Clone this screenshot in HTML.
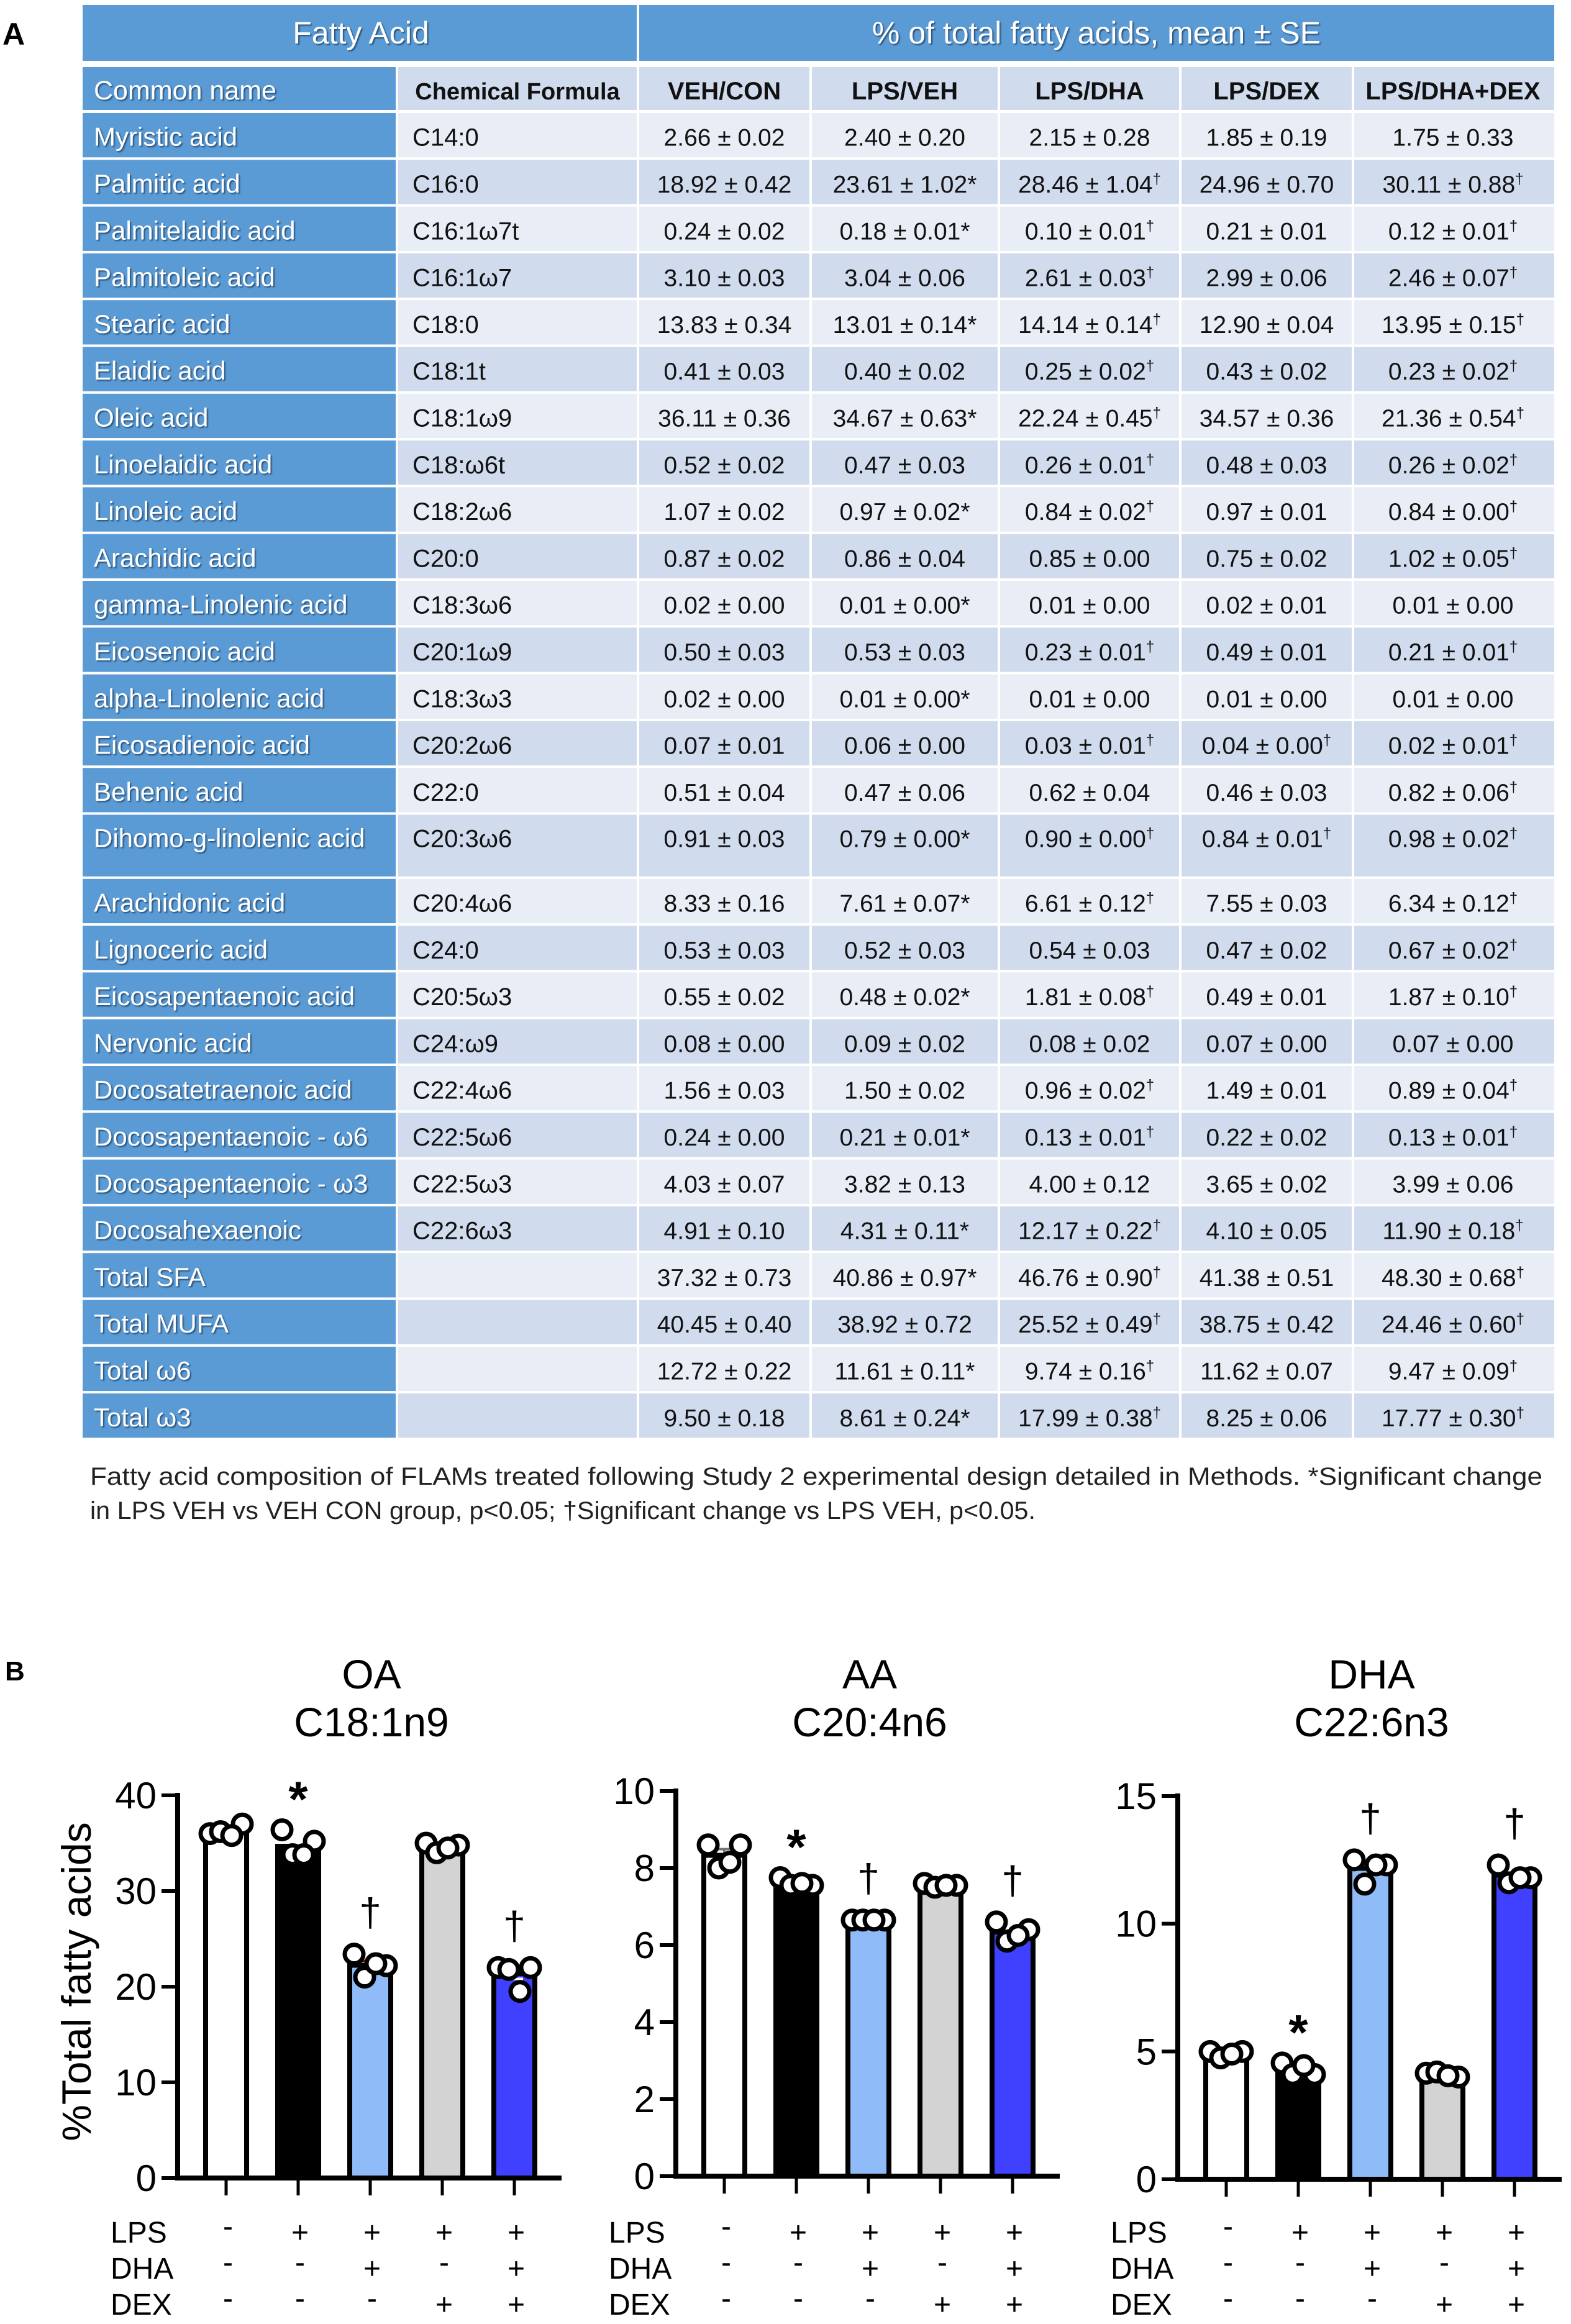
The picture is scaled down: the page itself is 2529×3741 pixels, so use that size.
<!DOCTYPE html>
<html><head><meta charset="utf-8"><style>
html,body{margin:0;padding:0;background:#fff;}
svg{display:block;}
</style></head><body>
<svg id="fig" xmlns="http://www.w3.org/2000/svg" width="2529" height="3741" viewBox="0 0 2529 3741">
<defs><filter id="sh" x="-5%" y="-20%" width="110%" height="140%"><feDropShadow dx="2" dy="2" stdDeviation="1" flood-color="#1f3b5c" flood-opacity="0.8"/></filter></defs>
<g id="table"></g>
<g id="charts"></g>
</svg>
<script>
const NS='http://www.w3.org/2000/svg';
function mk(p,tag,a,txt){const e=document.createElementNS(NS,tag);for(const k in a)e.setAttribute(k,a[k]);if(txt!==undefined)e.textContent=txt;p.appendChild(e);return e;}
const svg=document.getElementById('fig');
const T=document.getElementById('table');
const C=document.getElementById('charts');
const SANS='Liberation Sans, sans-serif';

// ---------- TABLE ----------
const names=["Myristic acid","Palmitic acid","Palmitelaidic acid","Palmitoleic acid","Stearic acid","Elaidic acid","Oleic acid","Linoelaidic acid","Linoleic acid","Arachidic acid","gamma-Linolenic acid","Eicosenoic acid","alpha-Linolenic acid","Eicosadienoic acid","Behenic acid","Dihomo-g-linolenic acid","Arachidonic acid","Lignoceric acid","Eicosapentaenoic acid","Nervonic acid","Docosatetraenoic acid","Docosapentaenoic - ω6","Docosapentaenoic - ω3","Docosahexaenoic","Total SFA","Total MUFA","Total ω6","Total ω3"];
const formulas=["C14:0","C16:0","C16:1ω7t","C16:1ω7","C18:0","C18:1t","C18:1ω9","C18:ω6t","C18:2ω6","C20:0","C18:3ω6","C20:1ω9","C18:3ω3","C20:2ω6","C22:0","C20:3ω6","C20:4ω6","C24:0","C20:5ω3","C24:ω9","C22:4ω6","C22:5ω6","C22:5ω3","C22:6ω3","","","",""];
const groups=["VEH/CON","LPS/VEH","LPS/DHA","LPS/DEX","LPS/DHA+DEX"];
const vals=[
["2.66 ± 0.02","2.40 ± 0.20","2.15 ± 0.28","1.85 ± 0.19","1.75 ± 0.33"],
["18.92 ± 0.42","23.61 ± 1.02*","28.46 ± 1.04†","24.96 ± 0.70","30.11 ± 0.88†"],
["0.24 ± 0.02","0.18 ± 0.01*","0.10 ± 0.01†","0.21 ± 0.01","0.12 ± 0.01†"],
["3.10 ± 0.03","3.04 ± 0.06","2.61 ± 0.03†","2.99 ± 0.06","2.46 ± 0.07†"],
["13.83 ± 0.34","13.01 ± 0.14*","14.14 ± 0.14†","12.90 ± 0.04","13.95 ± 0.15†"],
["0.41 ± 0.03","0.40 ± 0.02","0.25 ± 0.02†","0.43 ± 0.02","0.23 ± 0.02†"],
["36.11 ± 0.36","34.67 ± 0.63*","22.24 ± 0.45†","34.57 ± 0.36","21.36 ± 0.54†"],
["0.52 ± 0.02","0.47 ± 0.03","0.26 ± 0.01†","0.48 ± 0.03","0.26 ± 0.02†"],
["1.07 ± 0.02","0.97 ± 0.02*","0.84 ± 0.02†","0.97 ± 0.01","0.84 ± 0.00†"],
["0.87 ± 0.02","0.86 ± 0.04","0.85 ± 0.00","0.75 ± 0.02","1.02 ± 0.05†"],
["0.02 ± 0.00","0.01 ± 0.00*","0.01 ± 0.00","0.02 ± 0.01","0.01 ± 0.00"],
["0.50 ± 0.03","0.53 ± 0.03","0.23 ± 0.01†","0.49 ± 0.01","0.21 ± 0.01†"],
["0.02 ± 0.00","0.01 ± 0.00*","0.01 ± 0.00","0.01 ± 0.00","0.01 ± 0.00"],
["0.07 ± 0.01","0.06 ± 0.00","0.03 ± 0.01†","0.04 ± 0.00†","0.02 ± 0.01†"],
["0.51 ± 0.04","0.47 ± 0.06","0.62 ± 0.04","0.46 ± 0.03","0.82 ± 0.06†"],
["0.91 ± 0.03","0.79 ± 0.00*","0.90 ± 0.00†","0.84 ± 0.01†","0.98 ± 0.02†"],
["8.33 ± 0.16","7.61 ± 0.07*","6.61 ± 0.12†","7.55 ± 0.03","6.34 ± 0.12†"],
["0.53 ± 0.03","0.52 ± 0.03","0.54 ± 0.03","0.47 ± 0.02","0.67 ± 0.02†"],
["0.55 ± 0.02","0.48 ± 0.02*","1.81 ± 0.08†","0.49 ± 0.01","1.87 ± 0.10†"],
["0.08 ± 0.00","0.09 ± 0.02","0.08 ± 0.02","0.07 ± 0.00","0.07 ± 0.00"],
["1.56 ± 0.03","1.50 ± 0.02","0.96 ± 0.02†","1.49 ± 0.01","0.89 ± 0.04†"],
["0.24 ± 0.00","0.21 ± 0.01*","0.13 ± 0.01†","0.22 ± 0.02","0.13 ± 0.01†"],
["4.03 ± 0.07","3.82 ± 0.13","4.00 ± 0.12","3.65 ± 0.02","3.99 ± 0.06"],
["4.91 ± 0.10","4.31 ± 0.11*","12.17 ± 0.22†","4.10 ± 0.05","11.90 ± 0.18†"],
["37.32 ± 0.73","40.86 ± 0.97*","46.76 ± 0.90†","41.38 ± 0.51","48.30 ± 0.68†"],
["40.45 ± 0.40","38.92 ± 0.72","25.52 ± 0.49†","38.75 ± 0.42","24.46 ± 0.60†"],
["12.72 ± 0.22","11.61 ± 0.11*","9.74 ± 0.16†","11.62 ± 0.07","9.47 ± 0.09†"],
["9.50 ± 0.18","8.61 ± 0.24*","17.99 ± 0.38†","8.25 ± 0.06","17.77 ± 0.30†"]];

const colX=[133,641,1029,1307,1610,1902,2180,2502];
const BLUE='#5b9bd5', L1='#e9edf6', L2='#d0dbee', GAP=4;
mk(T,'text',{x:4,y:72,'font-family':SANS,'font-weight':'bold','font-size':50,fill:'#000',},'A');
mk(T,'rect',{x:133,y:8,width:1029-133-GAP,height:90,fill:BLUE,});
mk(T,'rect',{x:1029,y:8,width:2502-1029,height:90,fill:BLUE,});
mk(T,'text',{x:581,y:70,'text-anchor':'middle','font-family':SANS,'font-size':50,fill:'#fff',filter:'url(#sh)',},'Fatty Acid');
mk(T,'text',{x:1765,y:70,'text-anchor':'middle','font-family':SANS,'font-size':50,fill:'#fff',filter:'url(#sh)',},'% of total fatty acids, mean ± SE');
const r2y=108,r2h=69;
mk(T,'rect',{x:133,y:r2y,width:colX[1]-133-GAP,height:r2h,fill:BLUE,});
mk(T,'text',{x:151,y:r2y+52,'font-family':SANS,'font-size':43,fill:'#fff',filter:'url(#sh)',},'Common name');
const subs=['Chemical Formula'].concat(groups);
for(let c=1;c<7;c++){
  const r=mk(T,'rect',{x:colX[c],y:r2y,width:colX[c+1]-colX[c]-(c<6?GAP:0),height:r2h,fill:L2});
  
  
  const cx=c===1?colX[1]+(colX[2]-colX[1]-GAP)/2:(colX[c]+colX[c+1]-GAP)/2;
  const t=mk(T,'text',{x:cx,y:r2y+52,'text-anchor':'middle','font-family':SANS,'font-weight':'bold','font-size':c===1?38:40,fill:'#111'},subs[c-1]);
  
  
}
let y=182;
const P=75.3;
for(let i=0;i<names.length;i++){
  const h=(i===15?P+28:P)-GAP;
  const bg=i%2===0?L1:L2;
  const rn=mk(T,'rect',{x:133,y:y,width:colX[1]-133-GAP,height:h,fill:BLUE});
  
  
  const base=i===15?y+52:y+h/2+17;
  const tn=mk(T,'text',{x:151,y:base,'font-family':SANS,'font-size':42,fill:'#fff',filter:'url(#sh)'},names[i]);
  
  
  for(let c=1;c<7;c++){
    const r=mk(T,'rect',{x:colX[c],y:y,width:colX[c+1]-colX[c]-(c<6?GAP:0),height:h,fill:bg});
    
    
  }
  const tf=mk(T,'text',{x:664,y:base,'font-family':SANS,'font-size':40,fill:'#111'},formulas[i]);
  
  
  for(let c=0;c<5;c++){
    const cx=(colX[c+2]+colX[c+3]-GAP)/2;
    let s=vals[i][c],mark='';
    if(s.endsWith('*')||s.endsWith('†')){mark=s.slice(-1);s=s.slice(0,-1);}
    const t=mk(T,'text',{x:cx,y:base,'text-anchor':'middle','font-family':SANS,'font-size':39,fill:'#111'},s);
    
    
    if(mark){mk(t,'tspan',mark==='†'?{'font-size':24,dy:-14}:{},mark);}
  }
  y+=(i===15?P+28:P);
}
const cap1=mk(T,'text',{x:145,y:2390,'font-family':SANS,'font-size':40,fill:'#222',textLength:2338,lengthAdjust:'spacingAndGlyphs'},'Fatty acid composition of FLAMs treated following Study 2 experimental design detailed in Methods. *Significant change');


const cap2=mk(T,'text',{x:145,y:2445,'font-family':SANS,'font-size':40,fill:'#222',textLength:1522,lengthAdjust:'spacingAndGlyphs'},'in LPS VEH vs VEH CON group,  p<0.05;  †Significant change vs LPS VEH,  p<0.05.');



// ---------- CHARTS ----------
const barColors=['#ffffff','#000000','#8fbcf8','#d3d3d3','#4040ff'];
const oaMeans=[36.11,34.67,22.24,34.57,21.36];
const oaSE=[0.36,0.63,0.45,0.36,0.54];
const oaPoints=[[36.0,37.0,36.2,35.8],[36.4,35.2,33.8,33.8],[23.4,22.2,21.0,22.4],[35.0,34.8,34.0,34.5],[22.0,22.0,21.8,19.5]];
const oaTicks=[0,10,20,30,40];
const oaSig=['','*','†','','†'];
const aaMeans=[8.33,7.61,6.61,7.55,6.34];
const aaSE=[0.16,0.07,0.02,0.03,0.12];
const aaPoints=[[8.6,8.6,8.0,8.15],[7.75,7.55,7.55,7.6],[6.65,6.65,6.65,6.65],[7.6,7.55,7.5,7.55],[6.6,6.4,6.1,6.25]];
const aaTicks=[0,2,4,6,8,10];
const aaSig=['','*','†','','†'];
const dhaMeans=[4.91,4.31,12.17,4.10,11.90];
const dhaSE=[0.10,0.11,0.22,0.05,0.18];
const dhaPoints=[[5.0,5.0,4.75,4.9],[4.55,4.1,4.1,4.45],[12.5,12.3,11.55,12.3],[4.15,4.0,4.2,4.05],[12.3,11.8,11.6,11.8]];
const dhaTicks=[0,5,10,15];
const dhaSig=['','*','†','','†'];
const condLPS=['-','+','+','+','+'];
const condDHA=['-','-','+','-','+'];
const condDEX=['-','-','-','+','+'];
const ebColors=['#777','#fff','#c00000','#555','#fff'];

mk(C,'text',{x:8,y:2705,'font-family':SANS,'font-weight':'bold','font-size':44,fill:'#000',},'B');

function chart(name,ax,yTop,y0,ymax,means,se,pts,ticks,sig,t1,t2){
  const g=mk(C,'g',{});
  
  
  const ys=v=>y0-(v/ymax)*(y0-yTop);
  const xs=i=>ax+78+i*116;
  const tt=mk(g,'text',{x:ax+312,y:2718,'text-anchor':'middle','font-family':SANS,'font-size':66,fill:'#000'},t1);
  
  
  const ts=mk(g,'text',{x:ax+312,y:2795,'text-anchor':'middle','font-family':SANS,'font-size':66,fill:'#000'},t2);
  
  
  for(let i=0;i<5;i++){
    const b=mk(g,'rect',{x:xs(i)-33,y:ys(means[i]),width:66,height:y0-ys(means[i]),fill:barColors[i],stroke:'#000','stroke-width':8});
    
    
    const e=mk(g,'path',{d:`M${xs(i)-14},${ys(means[i]+se[i])}H${xs(i)+14}M${xs(i)},${ys(means[i]+se[i])}V${ys(means[i]-se[i])}M${xs(i)-14},${ys(means[i]-se[i])}H${xs(i)+14}`,stroke:ebColors[i],'stroke-width':4,fill:'none'});
    
    
    const offs=[-26,26,-9,9];
    pts[i].forEach((v,k)=>{
      const c=mk(g,'circle',{cx:xs(i)+offs[k],cy:ys(v),r:15,fill:'#fff',stroke:'#000','stroke-width':7});
      
      
    });
    if(sig[i]){
      const top=Math.min(...pts[i].map(ys));
      const s=mk(g,'text',{x:xs(i),y:sig[i]==='*'?top+18-20-20:top-45,'text-anchor':'middle','font-family':SANS,'font-size':sig[i]==='*'?80:64,'font-weight':sig[i]==='*'?'bold':'normal',fill:'#000'},sig[i]);
      
      
    }
    const xt=mk(g,'line',{x1:xs(i),y1:y0,x2:xs(i),y2:y0+28,stroke:'#000','stroke-width':5});
    
    
    [[condLPS,3610],[condDHA,3668],[condDEX,3726]].forEach(([arr,yy])=>{
      const ct=mk(g,'text',{x:xs(i)+3,y:arr[i]==='-'?yy-10:yy,'text-anchor':'middle','font-family':SANS,'font-size':48,fill:'#000'},arr[i]);
      
      
    });
  }
  const ya=mk(g,'line',{x1:ax,y1:yTop-4,x2:ax,y2:y0+4,stroke:'#000','stroke-width':8});
  
  
  const xa=mk(g,'line',{x1:ax-4,y1:y0,x2:ax+618,y2:y0,stroke:'#000','stroke-width':8});
  
  
  ticks.forEach(v=>{
    const tk=mk(g,'line',{x1:ax-26,y1:ys(v),x2:ax,y2:ys(v),stroke:'#000','stroke-width':6});
    
    
    const tl=mk(g,'text',{x:ax-34,y:ys(v)+21,'text-anchor':'end','font-family':SANS,'font-size':60,fill:'#000'},String(v));
    
    
  });
  [['LPS',3610],['DHA',3668],['DEX',3726]].forEach(([l,yy])=>{
    const lt=mk(g,'text',{x:ax-108,y:yy,'font-family':SANS,'font-size':48,fill:'#000'},l);
    
    
  });
}
chart('oa',286,2890,3506,40,oaMeans,oaSE,oaPoints,oaTicks,oaSig,'OA','C18:1n9');
chart('aa',1088,2883,3503,10,aaMeans,aaSE,aaPoints,aaTicks,aaSig,'AA','C20:4n6');
chart('dha',1896,2891,3508,15,dhaMeans,dhaSE,dhaPoints,dhaTicks,dhaSig,'DHA','C22:6n3');
const yt=mk(C,'text',{x:0,y:0,transform:'translate(146,3190) rotate(-90)','text-anchor':'middle','font-family':SANS,'font-size':66,fill:'#000'},'%Total fatty acids');


</script>
</body></html>
